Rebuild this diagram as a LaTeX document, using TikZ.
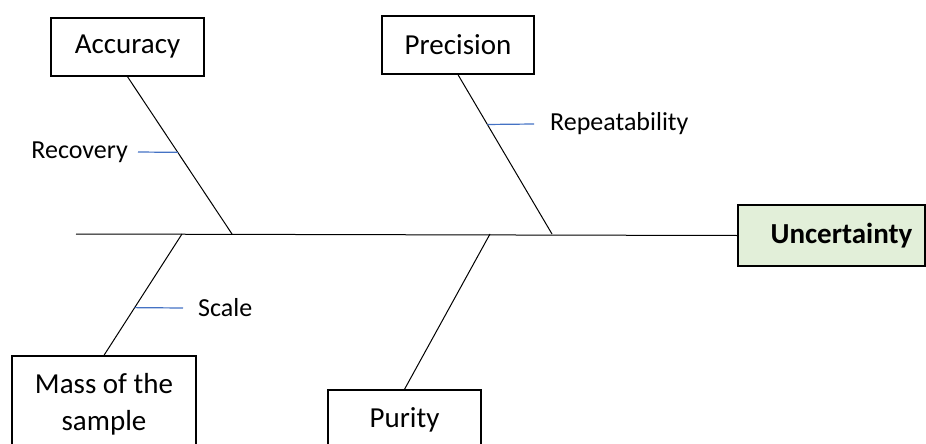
\documentclass[tikz,border=0pt]{standalone}
\usepackage{fontspec}
\setmainfont{Carlito}
\usetikzlibrary{calc}
\definecolor{tickblue}{HTML}{4472C4}
\definecolor{effectgreen}{HTML}{E2EFD9}
\tikzset{
  cause/.style={draw, line width=1.4pt, align=center, inner sep=0pt},
  subcause/.style={inner ysep=0pt, font=\fontsize{26}{31}\selectfont},
  bone/.style={line width=1pt},
  tick/.style={tickblue, line width=1.2pt}
}
\begin{document}
\begin{tikzpicture}[x=1pt,y=-1pt,font=\fontsize{29}{37}\selectfont]
\useasboundingbox (0,0) rectangle (926,444);
% effect and spine
\node[cause, fill=effectgreen, font=\fontsize{29}{37}\selectfont\bfseries,
      minimum width=187pt, minimum height=61pt] (unc) at (831.5,235.5) {\hspace*{20pt}Uncertainty};
\coordinate (tail) at (76,234);
\coordinate (j1) at (232,234);
\coordinate (j2) at (552,234);
\coordinate (j3) at (182,234);
\coordinate (j4) at (490,234);
\draw[bone] (tail) -- (unc.west);
% causes
\node[cause, minimum width=153pt, minimum height=58pt] (acc) at (127.5,47) {Accuracy};
\node[cause, minimum width=152pt, minimum height=58pt] (prec) at (458,45) {Precision};
\node[cause, minimum width=184pt, minimum height=97pt] (mass) at (104,404.5) {Mass of the\\sample};
\node[cause, minimum width=153pt, minimum height=60pt] (pur) at (404.5,420) {Purity};
\draw[bone] (acc.south) -- (j1);
\draw[bone] (prec.south) -- (j2);
\draw[bone] (mass.north) -- (j3);
\draw[bone] (pur.north) -- (j4);
% sub-causes
\coordinate (c1) at ($(acc.south)!0.481!(j1)$);
\coordinate (c2) at ($(prec.south)!0.3125!(j2)$);
\coordinate (c3) at ($(mass.north)!0.393!(j3)$);
\node[subcause, anchor=east, inner xsep=10pt] (rec) at (138,152) {Recovery};
\node[subcause, anchor=west, inner xsep=16pt] (rep) at (534,124) {Repeatability};
\node[subcause, anchor=west, inner xsep=15pt] (scl) at (183,308) {Scale};
\draw[tick] (rec.east) -- (c1);
\draw[tick] (c2) -- (rep.west);
\draw[tick] (c3) -- (scl.west);
\end{tikzpicture}
\end{document}
